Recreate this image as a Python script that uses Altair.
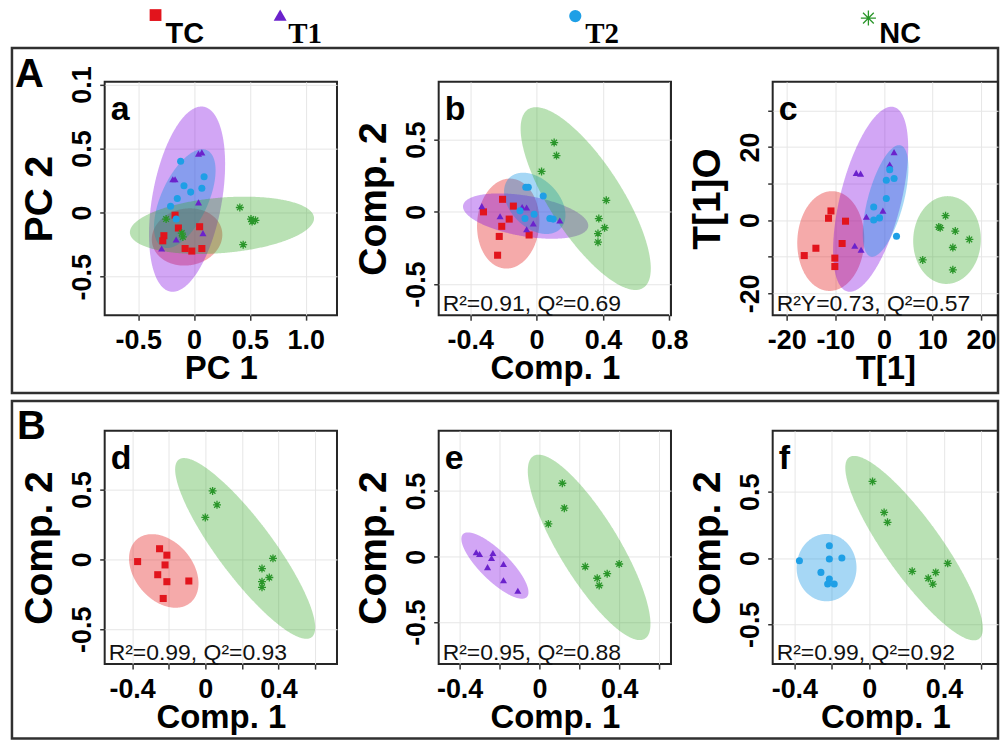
import altair as alt
import numpy as np
import pandas as pd

# ---------------- data ----------------
GROUPS = ["TC", "T1", "T2", "NC"]
POINT_COLORS = ["#e2141c", "#6b22cc", "#1e9fe6", "#2a962a"]
ELLIPSE_COLORS = ["#e20c0c", "#7e00e2", "#008de2", "#37a929"]
ASTERISK = "M-1,0L1,0M0,-1L0,1M-0.71,-0.71L0.71,0.71M-0.71,0.71L0.71,-0.71"
SHAPES = ["square", "triangle-up", "circle", ASTERISK]

PANELS = ["a", "b", "c", "d", "e", "f"]
X_TITLES = ["PC 1", "Comp. 1", "T[1]", "Comp. 1", "Comp. 1", "Comp. 1"]
Y_TITLES = ["PC 2", "Comp. 2", "T[1]O", "Comp. 2", "Comp. 2", "Comp. 2"]
STATS = ["", "R²=0.91, Q²=0.69", "R²Y=0.73, Q²=0.57",
         "R²=0.99, Q²=0.93", "R²=0.95, Q²=0.88", "R²=0.99, Q²=0.92"]

X_DOMAINS = [[-0.80, 1.28], [-0.59, 0.81], [-22.9, 23.5],
             [-0.55, 0.72], [-0.505, 0.66], [-0.516, 0.689]]
Y_DOMAINS = [[-0.80, 1.02], [-0.715, 0.90], [-26, 37.8],
             [-0.75, 0.92], [-0.82, 0.96], [-0.80, 0.96]]

X_TICKS = [[-0.5, 0, 0.5, 1.0],
           [-0.4, -0.2, 0, 0.2, 0.4, 0.6, 0.8],
           [-20, -10, 0, 10, 20],
           [-0.4, -0.2, 0, 0.2, 0.4, 0.6],
           [-0.4, -0.2, 0, 0.2, 0.4, 0.6],
           [-0.4, -0.2, 0, 0.2, 0.4, 0.6]]
X_TICK_LABELS = [["-0.5", "0", "0.5", "1.0"],
                 ["-0.4", "", "0", "", "0.4", "", "0.8"],
                 ["-20", "-10", "0", "10", "20"],
                 ["-0.4", "", "0", "", "0.4", ""],
                 ["-0.4", "", "0", "", "0.4", ""],
                 ["-0.4", "", "0", "", "0.4", ""]]
Y_TICKS = [[-0.5, 0, 0.5, 1.0],
           [-0.5, 0, 0.5],
           [-20, -10, 0, 10, 20, 30],
           [-0.5, 0, 0.5],
           [-0.5, 0, 0.5],
           [-0.5, 0, 0.5]]
Y_TICK_LABELS = [["-0.5", "0", "0.5", "0.1"],
                 ["-0.5", "0", "0.5"],
                 ["-20", "", "0", "", "20", ""],
                 ["-0.5", "0", "0.5"],
                 ["-0.5", "0", "0.5"],
                 ["-0.5", "0", "0.5"]]

# scores (x, y) per panel and group
A_TC = [(-0.17, -0.02), (-0.14, -0.12), (-0.27, -0.18), (-0.28, -0.22),
        (-0.08, -0.28), (-0.02, -0.30), (0.07, -0.28), (0.05, -0.11)]
A_T1 = [(0.04, 0.46), (0.07, 0.47), (-0.19, 0.26), (-0.17, 0.26),
        (0.04, 0.08), (0.08, -0.16), (-0.16, -0.21), (-0.29, -0.28)]
A_T2 = [(-0.12, 0.40), (0.09, 0.28), (-0.09, 0.21), (-0.03, 0.16),
        (0.07, 0.19), (-0.15, 0.11), (-0.21, 0.05), (-0.16, -0.05)]
A_NC = [(0.41, 0.04), (0.51, -0.05), (0.55, -0.06), (0.52, -0.07),
        (0.44, -0.25), (-0.25, -0.05), (-0.11, -0.16), (-0.10, -0.19)]

B_TC = [(-0.205, 0.087), (-0.14, 0.04), (-0.32, 0.0), (-0.21, -0.10),
        (-0.165, -0.05), (-0.225, -0.17), (-0.045, -0.16), (-0.235, -0.30)]
B_T1 = [(-0.33, 0.04), (-0.22, -0.03), (-0.087, 0.034), (-0.06, 0.03),
        (-0.02, -0.08), (-0.06, -0.12), (0.14, -0.06)]
B_T2 = [(-0.065, 0.17), (-0.05, 0.17), (0.04, 0.11), (-0.10, 0.007),
        (-0.015, -0.016), (-0.07, -0.046), (0.08, -0.046), (0.10, -0.05)]
B_NC = [(0.106, 0.48), (0.12, 0.39), (0.03, 0.28), (0.42, 0.08),
        (0.375, -0.046), (0.41, -0.11), (0.37, -0.15), (0.37, -0.21)]

C_TC = [(-10.9, 2.5), (-11.4, 0.5), (-7.9, -0.3), (-8.6, -6.4),
        (-14.0, -7.7), (-16.4, -9.7), (-10.1, -10.4), (-10.1, -12.7)]
C_T1 = [(2.1, 18.6), (1.2, 15.2), (-5.7, 12.9), (-4.8, 12.7),
        (-3.6, 0.9), (-0.2, 2.6), (-6.0, -7.0), (-4.7, -8.1)]
C_T2 = [(1.2, 13.8), (0.5, 10.9), (2.1, 11.4), (0.5, 5.9),
        (-2.1, 3.6), (-2.1, 0.0), (-0.9, 0.6), (2.6, -4.4)]
C_NC = [(12.7, 1.2), (11.6, -2.1), (11.3, -1.9), (14.7, -3.0),
        (17.6, -5.3), (14.2, -7.5), (8.0, -10.9), (14.2, -13.6)]

D_TC = [(-0.25, 0.076), (-0.21, 0.03), (-0.37, -0.016), (-0.22, -0.04),
        (-0.26, -0.11), (-0.21, -0.16), (-0.09, -0.155), (-0.23, -0.28)]
D_NC = [(0.04, 0.49), (0.064, 0.39), (0.0, 0.30), (0.37, 0.007),
        (0.31, -0.066), (0.35, -0.13), (0.31, -0.16), (0.31, -0.20)]

E_T1 = [(-0.317, 0.033), (-0.30, 0.02), (-0.233, 0.028), (-0.24, -0.01),
        (-0.26, -0.08), (-0.18, -0.056), (-0.18, -0.18), (-0.108, -0.26)]
E_NC = [(0.115, 0.56), (0.125, 0.37), (0.045, 0.25), (0.23, -0.076),
        (0.40, -0.056), (0.34, -0.13), (0.29, -0.165), (0.30, -0.22)]

F_T2 = [(-0.373, -0.02), (-0.213, 0.093), (-0.213, -0.007), (-0.146, 0.0),
        (-0.258, -0.108), (-0.213, -0.158), (-0.222, -0.196), (-0.187, -0.196)]
F_NC = [(0.018, 0.578), (0.08, 0.344), (0.098, 0.27), (0.23, -0.10),
        (0.42, -0.04), (0.356, -0.108), (0.316, -0.153), (0.34, -0.196)]

SCORES = {
    ("a", "TC"): A_TC, ("a", "T1"): A_T1, ("a", "T2"): A_T2, ("a", "NC"): A_NC,
    ("b", "TC"): B_TC, ("b", "T1"): B_T1, ("b", "T2"): B_T2, ("b", "NC"): B_NC,
    ("c", "TC"): C_TC, ("c", "T1"): C_T1, ("c", "T2"): C_T2, ("c", "NC"): C_NC,
    ("d", "TC"): D_TC, ("d", "NC"): D_NC,
    ("e", "T1"): E_T1, ("e", "NC"): E_NC,
    ("f", "T2"): F_T2, ("f", "NC"): F_NC,
}

# confidence ellipses: centre, tip of the major semi-axis, minor/major ratio
ELL_PANEL = ["a", "a", "a", "a", "b", "b", "b", "b", "c", "c", "c", "c",
             "d", "d", "e", "e", "f", "f"]
ELL_GROUP = ["TC", "T1", "T2", "NC", "TC", "T1", "T2", "NC", "TC", "T1", "T2", "NC",
             "TC", "NC", "T1", "NC", "T2", "NC"]
ELL_CX = [-0.0625, -0.0625, -0.083, 0.25, -0.171, -0.066, -0.011, 0.296,
          -10.94, -2.73, 0.35, 13.0, -0.227, 0.218, -0.223, 0.2495, -0.228, 0.24]
ELL_CY = [-0.19, 0.105, 0.109, -0.099, -0.081, -0.029, 0.059, 0.092,
          -5.73, 5.70, 5.24, -5.45, -0.083, 0.078, -0.068, 0.0707, -0.072, 0.075]
ELL_TX = [0.25, 0.087, 0.116, 1.074, -0.151, 0.311, 0.143, -0.051,
          -10.47, 2.05, 3.43, 13.35, -0.081, -0.145, -0.383, -0.03, -0.228, -0.107]
ELL_TY = [-0.14, 0.826, 0.487, -0.039, 0.23, -0.103, -0.117, 0.71,
          7.91, 30.92, 20.45, 6.55, -0.31, 0.714, 0.172, 0.768, 0.182, 0.76]
ELL_RATIO = [0.80, 0.37, 0.44, 0.30, 0.69, 0.32, 0.67, 0.34,
             0.67, 0.32, 0.31, 0.77, 0.70, 0.25, 0.33, 0.28, 0.89, 0.25]

LEGEND_LABELS = ["TC", "T1", "T2", "NC"]

# ---------------- layout / style ----------------
PANEL_W = [233, 233, 226, 233, 233, 226]
H = 234
LEG_FONTS = ["Liberation Sans", "Liberation Serif", "Liberation Serif", "Liberation Sans"]
LEG_SYM_X = [51, 176, 472, 766]
LEG_SYM_Y = [-67, -67, -66, -64]
LEG_SYM_SIZE = [140, 170, 150, 230]
LEG_TXT_X = [61, 184, 482, 777]
LEG_TXT_Y = -39

color_scale = alt.Scale(domain=GROUPS, range=POINT_COLORS)
fill_scale = alt.Scale(domain=GROUPS, range=ELLIPSE_COLORS)
shape_scale = alt.Scale(domain=GROUPS, range=SHAPES)

rows = []
for (p, g), pts in SCORES.items():
    for x, y in pts:
        rows.append({"panel": p, "group": g, "x": x, "y": y})
points_df = pd.DataFrame(rows)


def ellipse_rows(eid):
    p = ELL_PANEL[eid]
    pi = PANELS.index(p)
    (x0, x1), (y0, y1) = X_DOMAINS[pi], Y_DOMAINS[pi]
    kx, ky = PANEL_W[pi] / (x1 - x0), H / (y1 - y0)
    cx, cy = ELL_CX[eid], ELL_CY[eid]
    ax, ay = (ELL_TX[eid] - cx) * kx, (ELL_TY[eid] - cy) * ky
    r = ELL_RATIO[eid]
    bx, by = -r * ay, r * ax
    q = np.array([[ax, bx], [ay, by]])
    m = np.linalg.inv(q @ q.T)
    ux = np.hypot(ax, bx)
    u = ux * np.cos(np.linspace(np.pi, 0, 241))
    qa = m[1, 1]
    qb = 2 * m[0, 1] * u
    qc = m[0, 0] * u ** 2 - 1
    disc = np.sqrt(np.clip(qb ** 2 - 4 * qa * qc, 0, None))
    v1 = (-qb - disc) / (2 * qa)
    v2 = (-qb + disc) / (2 * qa)
    out = []
    for uu, a1, a2 in zip(u, v1, v2):
        out.append({"panel": p, "group": ELL_GROUP[eid], "eid": eid,
                    "x": cx + uu / kx, "ylo": cy + a1 / ky, "yhi": cy + a2 / ky})
    return out


ell_rows = []
for i in range(len(ELL_PANEL)):
    ell_rows += ellipse_rows(i)
ell_df = pd.DataFrame(ell_rows)


def label_expr(vals, labs):
    expr = "''"
    for v, l in reversed(list(zip(vals, labs))):
        expr = f"abs(datum.value - ({v})) < 1e-9 ? '{l}' : {expr}"
    return expr


def panel(pi):
    p = PANELS[pi]
    W = PANEL_W[pi]
    xs = alt.Scale(domain=X_DOMAINS[pi], nice=False, zero=False)
    ys = alt.Scale(domain=Y_DOMAINS[pi], nice=False, zero=False)
    xaxis = alt.Axis(values=X_TICKS[pi], labelExpr=label_expr(X_TICKS[pi], X_TICK_LABELS[pi]),
                     title=X_TITLES[pi], titleX=W / 2, titleY=64,
                     titleBaseline="alphabetic", titleAlign="center")
    yaxis = alt.Axis(values=Y_TICKS[pi], labelExpr=label_expr(Y_TICKS[pi], Y_TICK_LABELS[pi]),
                     title=Y_TITLES[pi], titleX=-53, titleY=H / 2, titleAngle=270,
                     titleBaseline="alphabetic", titleAlign="center")
    e = ell_df[ell_df.panel == p]
    pts = points_df[points_df.panel == p]
    layers = []
    layers.append(alt.Chart(e).mark_area(fillOpacity=0.35, clip=True).encode(
        x=alt.X("x:Q", scale=xs, axis=xaxis),
        y=alt.Y("ylo:Q", scale=ys, axis=yaxis),
        y2="yhi:Q",
        fill=alt.Fill("group:N", scale=fill_scale, legend=None),
        detail="eid:N",
    ))
    filled = pts[pts.group != "NC"]
    if len(filled):
        layers.append(alt.Chart(filled).mark_point(filled=True, opacity=1, size=50).encode(
            x=alt.X("x:Q", scale=xs), y=alt.Y("y:Q", scale=ys),
            color=alt.Color("group:N", scale=color_scale, legend=None),
            shape=alt.Shape("group:N", scale=shape_scale, legend=None),
        ))
    stars = pts[pts.group == "NC"]
    layers.append(alt.Chart(stars).mark_point(filled=False, opacity=1, size=64, strokeWidth=1.3).encode(
        x=alt.X("x:Q", scale=xs), y=alt.Y("y:Q", scale=ys),
        color=alt.Color("group:N", scale=color_scale, legend=None),
        shape=alt.Shape("group:N", scale=shape_scale, legend=None),
    ))
    one = pd.DataFrame({"t": [p], "s": [STATS[pi]]})
    layers.append(alt.Chart(one).mark_text(font="Liberation Sans", fontWeight="bold", fontSize=34,
                                           align="left", baseline="alphabetic", color="black").encode(
        x=alt.value(6), y=alt.value(38), text="t:N"))
    if STATS[pi]:
        layers.append(alt.Chart(one).mark_text(font="Liberation Sans", fontSize=23,
                                               align="left", baseline="alphabetic", color="#111").encode(
            x=alt.value(4), y=alt.value(H - 4), text="s:N"))
    if p == "a":
        leg = pd.DataFrame({"group": GROUPS, "label": LEGEND_LABELS})
        for i, g in enumerate(GROUPS):
            sub = leg[leg.group == g]
            layers.append(alt.Chart(sub).mark_point(filled=(g != "NC"), opacity=1,
                                                    size=LEG_SYM_SIZE[i], strokeWidth=1.3).encode(
                x=alt.value(LEG_SYM_X[i]), y=alt.value(LEG_SYM_Y[i]),
                color=alt.Color("group:N", scale=color_scale, legend=None),
                shape=alt.Shape("group:N", scale=shape_scale, legend=None)))
            layers.append(alt.Chart(sub).mark_text(font=LEG_FONTS[i], fontWeight="bold", fontSize=29,
                                                   align="left", baseline="alphabetic", color="black").encode(
                x=alt.value(LEG_TXT_X[i]), y=alt.value(LEG_TXT_Y), text="label:N"))
        layers.append(alt.Chart(pd.DataFrame({"k": ["A"]})).mark_rect(
            filled=False, color="#303030", strokeWidth=2.5).encode(
            x=alt.value(-93), x2=alt.value(896), y=alt.value(-34), y2=alt.value(312)))
        layers.append(alt.Chart(pd.DataFrame({"k": ["A"]})).mark_text(
            font="Liberation Sans", fontWeight="bold", fontSize=40, align="left",
            baseline="alphabetic", color="black").encode(
            x=alt.value(-90), y=alt.value(5), text="k:N"))
    if p == "d":
        layers.append(alt.Chart(pd.DataFrame({"k": ["B"]})).mark_rect(
            filled=False, color="#303030", strokeWidth=2.5).encode(
            x=alt.value(-93), x2=alt.value(896), y=alt.value(-30), y2=alt.value(308.5)))
        layers.append(alt.Chart(pd.DataFrame({"k": ["B"]})).mark_text(
            font="Liberation Sans", fontWeight="bold", fontSize=40, align="left",
            baseline="alphabetic", color="black").encode(
            x=alt.value(-88), y=alt.value(8), text="k:N"))
    return alt.layer(*layers).properties(width=W, height=H)


chart = alt.concat(
    *[panel(i) for i in range(6)],
    columns=3, spacing={"row": 116, "column": 102}, bounds="flush",
).resolve_scale(
    x="independent", y="independent"
).properties(
    padding={"left": 9, "top": 5, "right": 0, "bottom": 0}
).configure_view(
    stroke="#262626", strokeWidth=2
).configure_axis(
    labelFont="Liberation Sans", labelFontWeight="bold", labelFontSize=27, labelColor="black",
    titleFont="Liberation Sans", titleFontWeight="bold", titleColor="black",
    tickColor="#333333", tickSize=5, tickWidth=1.5, domain=False,
    gridColor="#e6e6e6", gridWidth=1, labelOverlap=False, labelFlush=False, labelBound=False,
).configure_axisX(
    titleFontSize=33, labelBaseline="alphabetic", labelPadding=28,
).configure_axisY(
    titleFontSize=39, labelAngle=270, labelAlign="center", labelBaseline="alphabetic", labelPadding=9,
)

chart.save("out.html", embed_options={"renderer": "svg", "actions": False})
